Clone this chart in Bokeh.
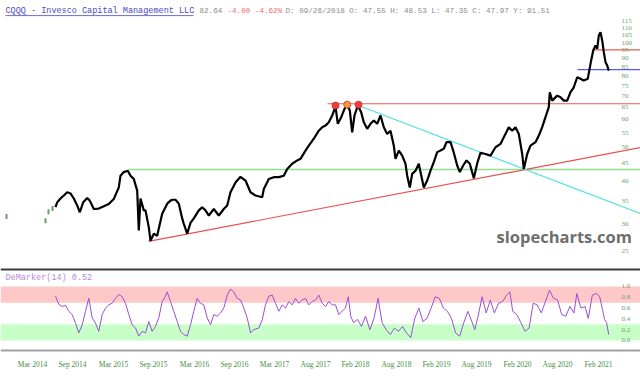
from bokeh.plotting import figure
from bokeh.layouts import column
from bokeh.models import Range1d, Label, BoxAnnotation, Span
from bokeh.embed import file_html
from bokeh.resources import INLINE
from bokeh.core.properties import value

# ---------------- data (x = bar position index) ----------------
price_idx = [55, 56.7, 60, 63.3, 66.7, 70, 73.3, 76.7, 79.3, 82.7, 86.7, 89.3, 93.3, 98.3, 103.3,
             108.3, 113.3, 118.3, 120, 123.3, 127.3, 130, 133.3, 136.7, 138.3, 140, 143.3, 145,
             148.3, 150, 153.3, 156.7, 158.3, 161.7, 166.7, 170, 172, 175, 178.3, 181.7, 183.3,
             186.7, 190, 193.3, 198.3, 201.7, 205, 208.3, 213.3, 218.3, 223.3, 226.7, 230, 235,
             240, 245, 250, 255, 261.7, 263.3, 268.3, 273.3, 278.3, 283.3, 286.7, 291.7, 296.7,
             300, 305, 308.3, 313.3, 318.3, 321.7, 325, 328.3, 331.7, 335, 337.3, 340.7, 344,
             346.7, 349.3, 351.7, 354, 357.3, 360.7, 363.3, 366.7, 370, 373.3, 376.7, 380, 383.3,
             386.7, 390, 393.3, 395, 398.3, 401.7, 405, 406.7, 409.3, 411.7, 415, 418.3, 420,
             423.3, 426.7, 430, 433.3, 436.7, 440, 443.3, 446, 450, 452.7, 456.7, 459.3, 462.7,
             466, 469.3, 473.3, 476.7, 480, 485, 490, 495, 500, 503.3, 508.3, 511.7, 515, 518.3,
             521.7, 523.3, 526.7, 530, 535, 538.3, 541.7, 545, 548.3, 549.3, 551.7, 556.7, 560,
             563.3, 566.7, 570, 573.3, 576.7, 580, 583.3, 587.3, 590, 592.7, 595, 596.7, 598.3,
             600, 601.7, 603.3, 605, 606.7, 608.3]
price_close = [33.5, 34.6, 35.5, 36.2, 37.0, 36.7, 35.5, 33.9, 32.4, 34.6, 35.6, 35.0, 33.1, 33.2, 33.7,
               34.2, 35.4, 38.2, 41.3, 42.3, 42.7, 41.3, 40.4, 37.4, 28.7, 35.5, 32.8, 32.8,
               29.3, 26.8, 28.1, 27.7, 29.1, 32.1, 34.3, 35.0, 35.2, 35.2, 34.3, 31.1, 30.0,
               28.1, 30.2, 31.1, 32.8, 33.5, 32.8, 31.7, 33.1, 31.7, 33.1, 33.9, 37.0, 39.5,
               41.0, 40.0, 37.0, 36.2, 35.8, 37.8, 40.4, 40.9, 40.9, 41.3, 43.2, 44.7, 45.7,
               46.2, 48.8, 50.4, 52.8, 55.7, 57.0, 57.6, 58.9, 61.6, 65.3, 58.3, 60.9, 64.4,
               66.2, 63.7, 55.1, 61.6, 65.8, 62.9, 58.9, 56.4, 58.3, 59.6, 58.3, 61.6, 57.0,
               54.5, 55.7, 50.4, 46.2, 48.8, 47.2, 44.7, 41.3, 38.2, 41.8, 42.7, 44.7, 42.3,
               38.2, 40.0, 42.7, 45.2, 48.3, 48.8, 49.4, 51.6, 51.6, 48.8, 44.2, 42.3, 44.2,
               45.7, 44.7, 40.6, 44.8, 48.1, 47.7, 47.2, 49.9, 51.0, 53.3, 57.0, 55.7, 57.0, 54.5,
               47.7, 43.2, 47.7, 50.4, 51.6, 53.9, 57.0, 60.9, 65.1, 71.9, 68.0, 70.3, 69.5,
               68.0, 68.0, 71.9, 74.3, 79.4, 78.6, 77.7, 78.6, 86.8, 94.8, 98.0, 95.9, 104.8,
               107.1, 101.4, 93.8, 87.8, 85.8, 83.0]

early_idx = [6, 45, 48, 52]
early_close = [31.5, 30.6, 32.5, 33.2]

dem_idx = [55, 58.3, 61.7, 65, 68.3, 71.7, 75, 78.3, 81.7, 85, 88.3, 91.7, 95, 98.3, 101.7, 105,
           108.3, 111.7, 115, 118.3, 121.7, 125, 128.3, 131.7, 135, 138.3, 141.7, 145, 148.3,
           151.7, 155, 158.3, 161.7, 165, 166.7, 170, 173.3, 176.7, 180, 183.3, 186.7, 190,
           193.3, 196.7, 200, 203.3, 206.7, 210, 213.3, 216.7, 220, 223.3, 226.7, 230, 233.3,
           236.7, 240, 243.3, 246.7, 250, 253.3, 258.3, 261.7, 265, 268.3, 271.7, 275, 278.3,
           281.7, 285, 288.3, 291.7, 295, 298.3, 301.7, 305, 308.3, 311.7, 315, 318.3, 321.7,
           325, 328.3, 331.7, 335, 338.3, 344.9, 347.8, 350.2, 353, 357, 361, 365, 369.4, 373.5,
           377.6, 381.6, 385.7, 389.8, 393.9, 398, 402, 406, 410.2, 414.3, 418.4, 422.4, 426.5,
           430.6, 434.7, 438.8, 442.9, 446.9, 451, 455.1, 459.2, 463.3, 467.3, 471.4, 474.3,
           477.6, 481.6, 485.7, 489.8, 493.9, 498, 502, 506.1, 509.4, 512.2, 516.3, 520.4,
           524.5, 528.6, 532.7, 536.7, 540.8, 544.9, 549, 553, 557.1, 561.2, 565.3, 569.4,
           573.5, 576.3, 580.4, 584.5, 587.8, 591.8, 595.9, 599.2, 602, 604.1, 606.1, 608.2]
dem_val = [0.82, 0.67, 0.63, 0.65, 0.54, 0.48, 0.32, 0.14, 0.29, 0.54, 0.78, 0.42, 0.32, 0.17, 0.48,
           0.60, 0.66, 0.69, 0.78, 0.85, 0.81, 0.69, 0.48, 0.29, 0.23, 0.08, 0.17, 0.14, 0.35,
           0.17, 0.26, 0.42, 0.72, 0.82, 0.90, 0.72, 0.54, 0.35, 0.17, 0.11, 0.08, 0.29, 0.54,
           0.78, 0.69, 0.66, 0.42, 0.29, 0.48, 0.45, 0.51, 0.60, 0.84, 0.95, 0.90, 0.78, 0.75,
           0.60, 0.42, 0.14, 0.20, 0.23, 0.38, 0.66, 0.82, 0.84, 0.69, 0.54, 0.66, 0.60, 0.72,
           0.66, 0.78, 0.69, 0.75, 0.78, 0.66, 0.72, 0.75, 0.84, 0.69, 0.63, 0.72, 0.66, 0.66,
           0.48, 0.60, 0.81, 0.45, 0.33, 0.39, 0.26, 0.45, 0.20, 0.41, 0.78, 0.33, 0.20, 0.11,
           0.23, 0.17, 0.26, 0.14, 0.05, 0.41, 0.60, 0.35, 0.41, 0.60, 0.81, 0.78, 0.60, 0.54,
           0.41, 0.14, 0.08, 0.33, 0.54, 0.35, 0.20, 0.45, 0.81, 0.51, 0.75, 0.51, 0.69, 0.72,
           0.84, 0.90, 0.54, 0.48, 0.33, 0.17, 0.23, 0.69, 0.66, 0.51, 0.72, 0.93, 0.78, 0.75,
           0.48, 0.45, 0.63, 0.51, 0.87, 0.60, 0.63, 0.41, 0.84, 0.87, 0.81, 0.57, 0.39, 0.33,
           0.11]

# annotation lines (trend lines / levels)
green_level_x, green_level_y = [128, 640], [43.0, 43.0]
red_level_x, red_level_y = [327, 640], [66.6, 66.6]
red_top_x, red_top_y = [593, 640], [95.3, 95.3]
blue_level_x, blue_level_y = [577, 640], [83.5, 83.5]
support_x, support_y = [148, 640], [26.7, 49.8]
resist_x, resist_y = [358, 640], [65.8, 32.1]
marker_x = [335, 346.7, 358]
marker_y = [65.8, 66.2, 66.2]
marker_fill = ["#f03c3c", "#ff9a3a", "#f03c3c"]

price_ticks = [25, 30, 35, 40, 45, 50, 55, 60, 65, 70, 75, 80, 85, 90, 95, 100, 105, 110, 115]
dem_ticks = [0.0, 0.2, 0.4, 0.6, 0.8, 1.0]
tick_idx = [32, 72, 113, 153, 194, 234, 274, 315, 355, 396, 436, 476, 517, 557, 598]
tick_labels = ["Mar 2014", "Sep 2014", "Mar 2015", "Sep 2015", "Mar 2016", "Sep 2016",
               "Mar 2017", "Aug 2017", "Feb 2018", "Aug 2018", "Feb 2019", "Aug 2019",
               "Feb 2020", "Aug 2020", "Feb 2021"]

MONO = "Liberation Mono"
SERIF = "Liberation Serif"
AXIS_GREEN = "#5fa85f"
LABEL_X = 621          # column where the right-hand scale labels sit
TITLE_Y = 123.7        # header row (price units)
HEADER_UNDERLINE_Y = 119.6
DEM_TITLE_Y = 1.148
SEP_TOP = 1.318
SEP_BOTTOM = -0.185
XLABEL_Y = -0.444

# ---------------- price panel ----------------
xr = Range1d(0, 640)
p = figure(width=640, height=268, x_range=xr, y_range=Range1d(22.3, 132.2),
           y_axis_type="log", y_axis_location=None, x_axis_location=None,
           toolbar_location=None, output_backend="svg",
           min_border_left=0, min_border_right=0, min_border_top=0, min_border_bottom=0,
           outline_line_color=None, background_fill_color="white")
p.grid.visible = False

p.line(green_level_x, green_level_y, line_color="#8fe08f", line_width=1.5)
p.line(red_level_x, red_level_y, line_color="#e85a5a", line_width=1.2)
p.line(support_x, support_y, line_color="#e85050", line_width=1.2)
p.line(resist_x, resist_y, line_color="#4fe0e0", line_width=1.2)
p.line(red_top_x, red_top_y, line_color="#e85a5a", line_width=1.2)
p.line(blue_level_x, blue_level_y, line_color="#5a5af0", line_width=1.2)

p.line(price_idx, price_close, line_color="black", line_width=2.2)
p.rect(early_idx, early_close, width=2, height=5, width_units="screen",
       height_units="screen", fill_color="#6b9e6b", line_color=None)
p.scatter(marker_x, marker_y, size=7, fill_color=marker_fill, line_color="#c03030",
          line_width=0.8)

# right-hand price scale
p.text(x=[LABEL_X] * len(price_ticks), y=price_ticks, text=[str(t) for t in price_ticks],
       text_font=value(SERIF), text_font_size="7px", text_color=AXIS_GREEN,
       text_align="left", text_baseline="middle")

# header texts
header = [
    ("CQQQ - Invesco Capital Management LLC", 5, "#4a4ac8", "8.5px"),
    ("82.64", 199, "#8a8a8a", "7.6px"),
    ("-4.00 -4.62%", 227, "#f06a6a", "7.6px"),
    ("D: 09/26/2018 O:  47.55 H:  48.53 L:  47.35 C:  47.97 Y:  91.51", 285, "#8a8a8a", "7.6px"),
]
for txt, hx, col, fs in header:
    p.add_layout(Label(x=hx, y=TITLE_Y, text=txt, text_font=MONO, text_font_size=fs,
                       text_color=col, text_baseline="middle"))
p.line([5, 193], [HEADER_UNDERLINE_Y, HEADER_UNDERLINE_Y], line_color="#4a4ac8", line_width=0.8)

p.add_layout(Label(x=496, y=27.6, text="slopecharts.com", text_font="Open Sans",
                   text_font_size="16.5px", text_font_style="bold", text_color="#6e6e6e",
                   text_baseline="middle"))

# ---------------- DeMarker panel ----------------
d = figure(width=640, height=108, x_range=xr, y_range=Range1d(-0.667, 1.333),
           y_axis_location=None, x_axis_location=None, toolbar_location=None,
           output_backend="svg",
           min_border_left=0, min_border_right=0, min_border_top=0, min_border_bottom=0,
           outline_line_color=None, background_fill_color="white")
d.grid.visible = False
d.add_layout(BoxAnnotation(bottom=0.7, top=1.0, fill_color="#ffc8c8", fill_alpha=1,
                           line_color=None, level="underlay"))
d.add_layout(BoxAnnotation(bottom=0.0, top=0.3, fill_color="#c8ffc8", fill_alpha=1,
                           line_color=None, level="underlay"))
d.add_layout(Span(location=SEP_TOP, dimension="width", line_color="#3c3c3c", line_width=2.5))
d.add_layout(Span(location=SEP_BOTTOM, dimension="width", line_color="#a0a0a0", line_width=2))
d.line(dem_idx, dem_val, line_color="#9a4fd4", line_width=1)
d.add_layout(Label(x=5, y=DEM_TITLE_Y, text="DeMarker(14) 0.52", text_font=MONO,
                   text_font_size="8.5px", text_color="#b58ade", text_baseline="middle"))

d.text(x=[LABEL_X] * len(dem_ticks), y=dem_ticks, text=["%.1f" % t for t in dem_ticks],
       text_font=value(SERIF), text_font_size="7px", text_color=AXIS_GREEN,
       text_align="left", text_baseline="middle")
d.text(x=tick_idx, y=[XLABEL_Y] * len(tick_idx), text=tick_labels,
       text_font=value(SERIF), text_font_size="7.5px", text_color="#3f8f3f",
       text_align="center", text_baseline="middle")

layout = column(p, d, spacing=0)
open("out.html", "w").write(file_html(layout, INLINE))
